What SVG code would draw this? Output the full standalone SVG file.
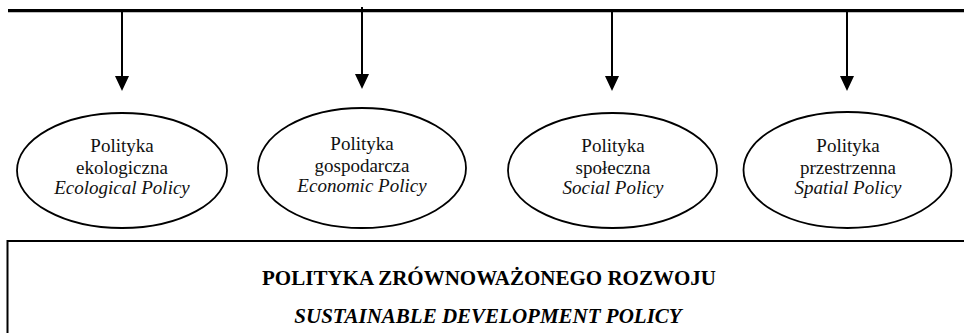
<svg xmlns="http://www.w3.org/2000/svg" width="964" height="333" viewBox="0 0 964 333">
<defs>
<style>
.bg{fill:#fff}
.bar{stroke:#000;stroke-width:3.2;fill:none}
.ln{stroke:#000;stroke-width:2;fill:none}
.ell{fill:#fff;stroke:#000;stroke-width:1.8}
.box{fill:#fff;stroke:#000;stroke-width:2}
.t{font-family:"Liberation Serif","Times New Roman",serif;font-size:19px;fill:#111;text-anchor:middle}
.i{font-style:italic}
.h{font-family:"Liberation Serif","Times New Roman",serif;font-size:21px;font-weight:bold;fill:#000;text-anchor:middle}
</style>
<marker id="ah" viewBox="0 0 14 15" refX="7" refY="15" markerWidth="14" markerHeight="15" markerUnits="userSpaceOnUse" orient="auto-start-reverse">
<path d="M0,0 L14,0 L7,15 Z" fill="#000"/>
</marker>
</defs>
<rect class="bg" x="0" y="0" width="964" height="333"/>
<g id="connectors">
<line class="bar" x1="8" y1="10.7" x2="964" y2="10.7"/>
<path class="ln" d="M122,12 V76"/><path d="M115,76 L129,76 L122,91 Z"/>
<path class="ln" d="M362,7 V74"/><path d="M355,74 L369,74 L362,89 Z"/>
<path class="ln" d="M612,12 V76"/><path d="M605,76 L619,76 L612,91 Z"/>
<path class="ln" d="M847,12 V76"/><path d="M840,76 L854,76 L847,91 Z"/>
</g>
<g id="node-ecological">
<ellipse class="ell" cx="122" cy="170.5" rx="105" ry="57.5"/>
<text class="t" x="122" y="152">Polityka</text>
<text class="t" x="122" y="174">ekologiczna</text>
<text class="t i" x="122" y="193.5">Ecological Policy</text>
</g>
<g id="node-economic">
<ellipse class="ell" cx="362" cy="168" rx="104" ry="60"/>
<text class="t" x="362" y="149.5">Polityka</text>
<text class="t" x="362" y="171.5">gospodarcza</text>
<text class="t i" x="362" y="191.5">Economic Policy</text>
</g>
<g id="node-social">
<ellipse class="ell" cx="612.5" cy="170.5" rx="104.5" ry="57.5"/>
<text class="t" x="613" y="152">Polityka</text>
<text class="t" x="613" y="174">społeczna</text>
<text class="t i" x="613" y="193.5">Social Policy</text>
</g>
<g id="node-spatial">
<ellipse class="ell" cx="847.5" cy="170" rx="104" ry="58"/>
<text class="t" x="848" y="152">Polityka</text>
<text class="t" x="848" y="174">przestrzenna</text>
<text class="t i" x="848" y="193.5">Spatial Policy</text>
</g>
<g id="node-sustainable">
<rect class="box" x="7.5" y="241" width="1000" height="200"/>
<text class="h" x="489" y="285">POLITYKA ZRÓWNOWAŻONEGO ROZWOJU</text>
<text class="h i" x="488" y="323">SUSTAINABLE DEVELOPMENT POLICY</text>
</g>
</svg>
